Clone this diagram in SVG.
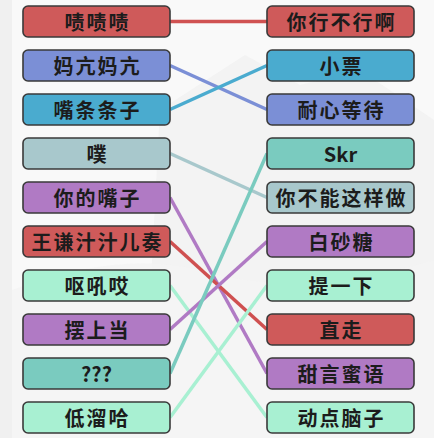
<svg xmlns="http://www.w3.org/2000/svg" width="434" height="438" viewBox="0 0 434 438">
<style>
.box{stroke:#3a3a3a;stroke-width:1.6}
.t{font-family:"Noto Sans CJK SC","Noto Sans",sans-serif;font-weight:700;font-size:20px;letter-spacing:2px;fill:#1c1c1c;text-anchor:middle;dominant-baseline:central}
.l{letter-spacing:0}
.c{fill:none;stroke-width:3.5;stroke-linecap:butt}
.red{fill:#cf5a5a}.blu{fill:#7b8fd6}.cya{fill:#4aabcf}.gry{fill:#a8c8cc}.pur{fill:#b07ac4}.min{fill:#a8f0d2}.tea{fill:#7acbbf}
</style>
<rect x="0" y="0" width="434" height="438" fill="#f9f9f9"/>
<rect x="0" y="0" width="12" height="438" fill="#f0f0f0"/>
<path d="M160 110 L245 55 L300 85 L360 70 L434 120 L434 300 L150 300 Z" fill="#eeeeee" opacity="0.6"/>
<path d="M12 290 Q120 250 200 270 Q300 300 434 260 L434 438 L12 438 Z" fill="#f4f4f4" opacity="0.7"/>
<g id="connectors">
<line class="c" x1="170" y1="21.5" x2="267" y2="21.5" stroke="#d05252"/>
<line class="c" x1="170" y1="65.5" x2="267" y2="109.5" stroke="#7b8fd6"/>
<line class="c" x1="170" y1="109.5" x2="267" y2="65.5" stroke="#4aabcf"/>
<line class="c" x1="170" y1="153.5" x2="267" y2="197.5" stroke="#a8c8cc"/>
<line class="c" x1="170" y1="197.5" x2="267" y2="373.5" stroke="#b07ac4"/>
<line class="c" x1="170" y1="241.5" x2="267" y2="329.5" stroke="#cf5050"/>
<line class="c" x1="170" y1="285.5" x2="267" y2="417.5" stroke="#a8f0d2"/>
<line class="c" x1="170" y1="329.5" x2="267" y2="241.5" stroke="#b07ac4"/>
<line class="c" x1="170" y1="373.5" x2="267" y2="153.5" stroke="#7acbbf"/>
<line class="c" x1="170" y1="417.5" x2="267" y2="285.5" stroke="#a8f0d2"/>
</g>
<g id="L0"><rect class="box red" x="23" y="6" width="147" height="31" rx="5"/><text class="t" x="97.5" y="21.5">啧啧啧</text></g>
<g id="L1"><rect class="box blu" x="23" y="50" width="147" height="31" rx="5"/><text class="t" x="97.5" y="65.5">妈亢妈亢</text></g>
<g id="L2"><rect class="box cya" x="23" y="94" width="147" height="31" rx="5"/><text class="t" x="97.5" y="109.5">嘴条条子</text></g>
<g id="L3"><rect class="box gry" x="23" y="138" width="147" height="31" rx="5"/><text class="t" x="97.5" y="153.5">噗</text></g>
<g id="L4"><rect class="box pur" x="23" y="182" width="147" height="31" rx="5"/><text class="t" x="97.5" y="197.5">你的嘴子</text></g>
<g id="L5"><rect class="box red" x="23" y="226" width="147" height="31" rx="5"/><text class="t" x="97.5" y="241.5">王谦汁汁儿奏</text></g>
<g id="L6"><rect class="box min" x="23" y="270" width="147" height="31" rx="5"/><text class="t" x="97.5" y="285.5">呕吼哎</text></g>
<g id="L7"><rect class="box pur" x="23" y="314" width="147" height="31" rx="5"/><text class="t" x="97.5" y="329.5">摆上当</text></g>
<g id="L8"><rect class="box tea" x="23" y="358" width="147" height="31" rx="5"/><text class="t l" x="96.5" y="373.5">???</text></g>
<g id="L9"><rect class="box min" x="23" y="402" width="147" height="31" rx="5"/><text class="t" x="97.5" y="417.5">低溜哈</text></g>
<g id="R0"><rect class="box red" x="267" y="6" width="147" height="31" rx="5"/><text class="t" x="341.5" y="21.5">你行不行啊</text></g>
<g id="R1"><rect class="box cya" x="267" y="50" width="147" height="31" rx="5"/><text class="t" x="341.5" y="65.5">小票</text></g>
<g id="R2"><rect class="box blu" x="267" y="94" width="147" height="31" rx="5"/><text class="t" x="341.5" y="109.5">耐心等待</text></g>
<g id="R3"><rect class="box tea" x="267" y="138" width="147" height="31" rx="5"/><text class="t l" x="340.5" y="153.5">Skr</text></g>
<g id="R4"><rect class="box gry" x="267" y="182" width="147" height="31" rx="5"/><text class="t" x="341.5" y="197.5">你不能这样做</text></g>
<g id="R5"><rect class="box pur" x="267" y="226" width="147" height="31" rx="5"/><text class="t" x="341.5" y="241.5">白砂糖</text></g>
<g id="R6"><rect class="box min" x="267" y="270" width="147" height="31" rx="5"/><text class="t" x="341.5" y="285.5">提一下</text></g>
<g id="R7"><rect class="box red" x="267" y="314" width="147" height="31" rx="5"/><text class="t" x="341.5" y="329.5">直走</text></g>
<g id="R8"><rect class="box pur" x="267" y="358" width="147" height="31" rx="5"/><text class="t" x="341.5" y="373.5">甜言蜜语</text></g>
<g id="R9"><rect class="box min" x="267" y="402" width="147" height="31" rx="5"/><text class="t" x="341.5" y="417.5">动点脑子</text></g>
</svg>
